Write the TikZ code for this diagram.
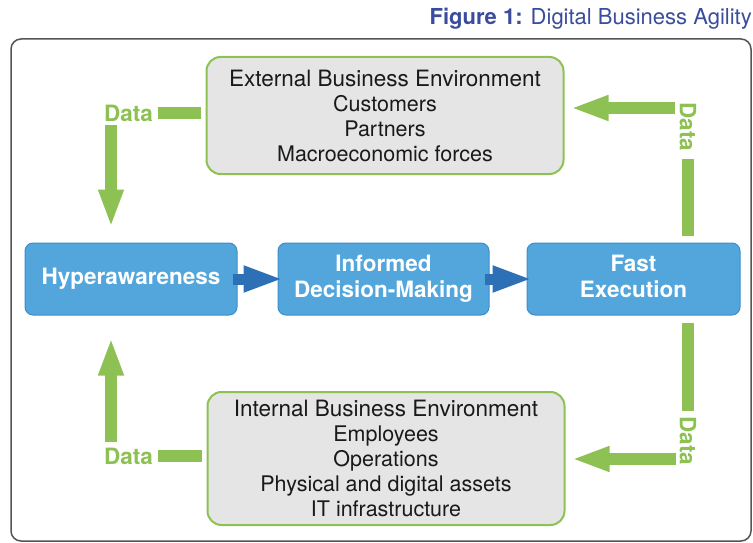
\documentclass[tikz,border=0pt]{standalone}
\usepackage{fontspec}
\setmainfont{TeX Gyre Heros}
\usetikzlibrary{arrows.meta}
\definecolor{datagreen}{RGB}{141,193,83}
\definecolor{boxblue}{RGB}{82,166,220}
\definecolor{boxblueline}{RGB}{62,141,203}
\definecolor{flowblue}{RGB}{46,112,182}
\definecolor{envgray}{RGB}{229,229,229}
\definecolor{titleblue}{RGB}{58,76,156}
\definecolor{framegray}{RGB}{85,85,85}
\newcommand{\envsmall}{\fontsize{21.5}{25}\selectfont}

\begin{document}
\begin{tikzpicture}[x=1pt,y=-1pt,
  every node/.style={font=\fontsize{22.5}{25}\selectfont},
  envbox/.style={draw=datagreen, line width=2pt, fill=envgray, rounded corners=14pt,
    minimum width=357pt, align=center, text=black!90},
  stagebox/.style={draw=boxblueline, line width=1pt, fill=boxblue, rounded corners=8pt,
    minimum width=212pt, minimum height=72pt, align=center, text=white,
    font=\fontsize{22.5}{26}\selectfont\bfseries},
  flowarrow/.style={draw=flowblue, line width=11pt, -{Triangle[length=40pt,width=24pt]},
    shorten <=-5pt, shorten >=-6pt},
  databar/.style={draw=datagreen, line width=12pt},
  dataarrow/.style={databar, -{Triangle[length=38pt,width=23pt]}},
  datalabel/.style={text=datagreen, font=\fontsize{22.5}{25}\selectfont\bfseries, inner sep=0pt}]
\useasboundingbox (0,0) rectangle (753,543);

% title and frame
\node[anchor=base east, text=titleblue, inner sep=0pt, font=\fontsize{22}{25}\selectfont] (title) at (752,25)
  {\textbf{Figure 1:} Digital Business Agility};
\draw[framegray, line width=1.5pt, rounded corners=10pt] (11,39) rectangle (751,541);

% environments
\node[envbox, minimum height=117pt] (ext) at (385,115.5)
  {External Business Environment\\\envsmall Customers\\\envsmall Partners\\\envsmall Macroeconomic forces};
\node[envbox, minimum height=133pt] (int) at (386,458.5)
  {Internal Business Environment\\\envsmall Employees\\\envsmall Operations\\\envsmall Physical and digital assets\\\envsmall IT infrastructure};

% stages
\node[stagebox] (hyper) at (131,279) {Hyperawareness};
\node[stagebox, minimum width=211pt] (infor) at (383.5,279) {Informed\\Decision-Making};
\node[stagebox, minimum width=213pt] (fast) at (633.5,279) {Fast\\Execution\vphantom{g}};
\draw[flowarrow] (hyper) -- (infor);
\draw[flowarrow] (infor) -- (fast);

% data loops
\node[datalabel] (dTL) at (128.5,113) {Data};
\node[datalabel] (dBL) at (128.5,456) {Data};
\node[datalabel, rotate=-90] (dTR) at (688,127) {Data};
\node[datalabel, rotate=-90] (dBR) at (688,441) {Data};
\coordinate (tlTop) at (111,125);
\coordinate (blBot) at (111,442);
\coordinate (trStart) at (675,108);
\coordinate (brStart) at (676,459);

\draw[databar, shorten <=5pt, shorten >=5pt] (dTL.east) -- (ext.west |- dTL.east);
\draw[dataarrow, shorten >=15pt] (tlTop) -- (tlTop |- hyper.north);
\draw[databar, shorten <=7pt, shorten >=7pt] (dTR.east |- fast.north) -- (dTR.east);
\draw[dataarrow, shorten >=6pt] (trStart) -- (trStart -| ext.east);
\draw[databar, shorten <=7pt, shorten >=5pt] (dBR.west |- fast.south) -- (dBR.west);
\draw[dataarrow, shorten >=6pt] (brStart) -- (brStart -| int.east);
\draw[databar, shorten <=5pt, shorten >=5pt] (dBL.east) -- (int.west |- dBL.east);
\draw[dataarrow, shorten >=22pt] (blBot) -- (blBot |- hyper.south);
\end{tikzpicture}
\end{document}
